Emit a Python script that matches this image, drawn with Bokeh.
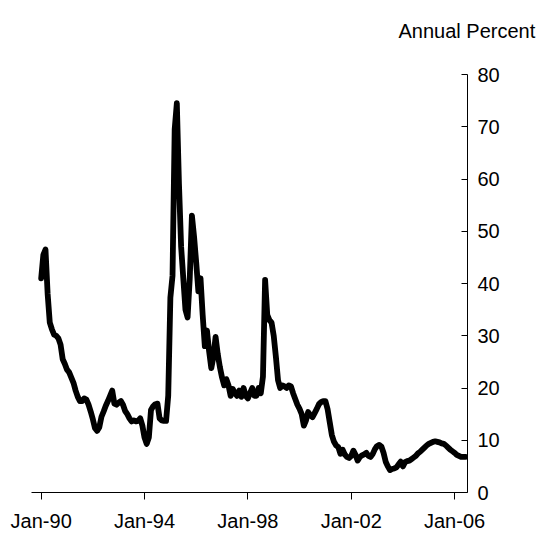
from bokeh.plotting import figure
from bokeh.models import Range1d, FixedTicker, Title
from bokeh.embed import file_html
from bokeh.resources import INLINE

# Monthly annual percent rate, Jan-1990 .. Jun-2006
y1990 = [41.0, 45.5, 46.5, 38.0, 32.5, 31.2, 30.2, 30.0, 29.5, 28.3, 25.5, 24.6]
y1991 = [23.5, 23.0, 22.0, 21.0, 19.5, 18.3, 17.5, 17.5, 18.0, 17.8, 16.8, 15.5]
y1992 = [14.0, 12.3, 11.8, 12.5, 14.5, 15.5, 16.6, 17.5, 18.5, 19.5, 17.0, 16.8]
y1993 = [17.2, 17.5, 16.8, 15.6, 15.0, 14.2, 13.6, 13.8, 13.6, 13.7, 14.2, 12.8]
y1994 = [10.5, 9.3, 10.5, 15.8, 16.5, 16.9, 17.0, 14.2, 13.8, 13.7, 13.7, 18.5]
y1995 = [37.3, 41.5, 69.5, 74.5, 59.0, 47.0, 41.0, 35.0, 33.5, 41.0, 53.0, 49.0]
y1996 = [44.0, 38.5, 41.0, 34.0, 28.0, 31.0, 27.0, 23.8, 26.0, 29.8, 26.5, 24.0]
y1997 = [22.0, 20.5, 21.7, 20.5, 18.5, 19.8, 19.0, 18.5, 19.5, 18.3, 20.0, 18.5]
y1998 = [18.0, 19.0, 20.0, 18.5, 18.5, 20.0, 19.0, 22.2, 40.7, 34.0, 33.0, 32.5]
y1999 = [30.0, 26.0, 21.5, 20.0, 20.5, 20.3, 20.0, 20.5, 20.3, 19.0, 17.9, 16.8]
y2000 = [16.0, 15.0, 12.8, 13.8, 15.4, 14.8, 14.4, 15.2, 16.0, 16.9, 17.3, 17.5]
y2001 = [17.5, 16.0, 13.5, 11.0, 9.7, 9.0, 8.7, 7.4, 8.2, 7.3, 6.8, 6.6]
y2002 = [7.0, 8.0, 7.2, 6.1, 6.8, 7.1, 7.3, 7.6, 7.0, 6.8, 7.4, 8.3]
y2003 = [8.9, 9.1, 8.8, 7.6, 5.9, 5.0, 4.3, 4.5, 4.6, 4.8, 5.4, 5.9]
y2004 = [5.0, 5.8, 6.0, 6.1, 6.4, 6.7, 7.0, 7.5, 7.8, 8.2, 8.6, 9.0]
y2005 = [9.3, 9.5, 9.7, 9.8, 9.7, 9.6, 9.4, 9.3, 9.0, 8.6, 8.2, 7.9]
y2006 = [7.6, 7.2, 7.0, 6.8, 6.8, 6.8]

start_year = 1990
tick_years = [1990, 1994, 1998, 2002, 2006]
tick_labels = ["Jan-90", "Jan-94", "Jan-98", "Jan-02", "Jan-06"]
y_ticks = [0, 10, 20, 30, 40, 50, 60, 70, 80]
unit_label = "Annual Percent"

values = (y1990 + y1991 + y1992 + y1993 + y1994 + y1995 + y1996 + y1997 + y1998
          + y1999 + y2000 + y2001 + y2002 + y2003 + y2004 + y2005 + y2006)
xs = [start_year + i / 12.0 for i in range(len(values))]

FONT = "Liberation Sans"

p = figure(width=545, height=534, output_backend="svg", toolbar_location=None,
           x_range=Range1d(1989.625, 2006.5), y_range=Range1d(0, 80),
           y_axis_location="right",
           min_border_left=31, min_border_right=78, min_border_top=74, min_border_bottom=40)
p.outline_line_color = None
p.xgrid.visible = False
p.ygrid.visible = False
p.background_fill_color = "white"
p.border_fill_color = "white"

p.line(xs, values, line_color="black", line_width=5.8, line_join="round", line_cap="round")

xa = p.xaxis[0]
xa.ticker = FixedTicker(ticks=tick_years)
xa.major_label_overrides = {t: l for t, l in zip(tick_years, tick_labels)}
xa.major_tick_in = 0
xa.major_tick_out = 7
xa.minor_tick_in = 0
xa.minor_tick_out = 0
xa.major_label_standoff = 10
xa.major_label_text_font = FONT
xa.major_label_text_font_size = "20px"
xa.major_label_text_color = "black"
xa.axis_line_color = "black"
xa.major_tick_line_color = "black"

ya = p.yaxis[0]
ya.ticker = FixedTicker(ticks=y_ticks)
ya.major_tick_in = 6
ya.major_tick_out = 0
ya.minor_tick_in = 0
ya.minor_tick_out = 0
ya.major_label_standoff = 10
ya.major_label_text_font = FONT
ya.major_label_text_font_size = "20px"
ya.major_label_text_color = "black"
ya.axis_line_color = "black"
ya.major_tick_line_color = "black"

# spacer panel between the frame and the unit label
p.add_layout(Title(text=" ", standoff=9, text_font=FONT, text_font_size="20px"), "above")
p.add_layout(Title(text=unit_label, align="left", offset=367, standoff=0,
                   vertical_align="bottom",
                   text_font=FONT, text_font_size="20px", text_font_style="normal",
                   text_color="black"), "above")

open("out.html", "w").write(file_html(p, INLINE))
